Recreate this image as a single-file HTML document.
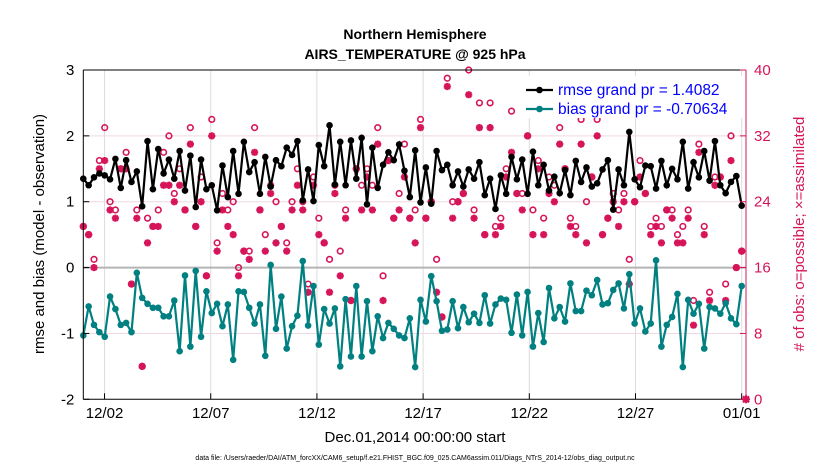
<!DOCTYPE html>
<html><head><meta charset="utf-8"><style>
body{margin:0;background:#fff;}
svg{display:block;font-family:"Liberation Sans",sans-serif;}
</style></head><body>
<svg id="chart" width="830" height="470" viewBox="0 0 830 470" xmlns="http://www.w3.org/2000/svg">
<rect width="830" height="470" fill="#fff"/>
<g id="grid"></g>
<g id="marks"></g>
<g id="axes"></g>
<text x="415" y="39" text-anchor="middle" font-size="14" font-weight="bold">Northern Hemisphere</text>
<text x="415" y="59" text-anchor="middle" font-size="14" font-weight="bold">AIRS_TEMPERATURE @ 925 hPa</text>
<text x="415" y="442" text-anchor="middle" font-size="15">Dec.01,2014 00:00:00 start</text>
<text transform="translate(44,234) rotate(-90)" text-anchor="middle" font-size="15">rmse and bias (model - observation)</text>
<text transform="translate(804,234) rotate(-90)" text-anchor="middle" font-size="15" fill="#d6145a"># of obs: o=possible; ×=assimilated</text>
<text x="415" y="460" text-anchor="middle" font-size="7">data file: /Users/raeder/DAI/ATM_forcXX/CAM6_setup/f.e21.FHIST_BGC.f09_025.CAM6assim.011/Diags_NTrS_2014-12/obs_diag_output.nc</text>
<g id="legend"></g>
</svg>
<script>
const rmse=[1.35,1.25,1.37,1.43,1.40,1.34,1.65,1.21,1.63,1.30,1.46,0.93,1.92,1.19,1.80,1.43,1.64,1.35,1.77,1.17,1.70,0.92,1.64,1.19,1.25,0.87,1.55,1.07,1.77,1.12,1.91,1.45,
1.60,1.12,1.68,1.23,1.63,1.54,1.82,1.71,1.92,1.02,1.49,1.01,1.86,1.54,2.16,1.26,1.91,1.25,1.93,1.35,1.97,0.96,1.82,1.21,1.56,1.75,1.63,1.87,1.47,1.07,1.78,
0.99,1.52,0.97,1.77,1.48,1.56,1.25,1.46,1.23,1.49,1.35,1.60,1.10,1.35,0.89,1.40,1.12,1.68,1.34,1.64,1.12,1.76,1.25,1.56,1.17,1.38,1.13,1.48,1.10,1.62,1.30,
1.52,1.23,1.28,1.49,1.63,0.88,1.49,1.25,2.06,1.34,1.22,1.55,1.54,1.20,1.62,1.25,1.50,1.34,1.91,1.20,1.60,1.37,1.77,1.32,1.92,1.25,1.13,1.30,1.39,0.94];
const bias=[-1.03,-0.59,-0.87,-0.98,-1.05,-0.44,-0.63,-0.87,-0.84,-0.98,-0.08,-0.46,-0.55,-0.61,-0.61,-0.74,-0.74,-0.50,-1.27,-0.12,-1.20,-0.05,-1.05,-0.36,-0.69,-0.55,-0.89,-0.56,-1.40,-0.36,-0.37,-0.61,
-0.85,-0.56,-1.34,0.04,-0.93,-0.44,-1.23,-0.89,-0.73,0.10,-0.88,-0.28,-1.17,-0.63,-0.85,-0.62,-1.50,-0.48,-1.35,-0.28,-1.35,-0.51,-1.27,-0.74,-1.07,-0.84,-0.93,-1.03,-1.07,-0.77,-1.51,
-0.49,-0.82,-0.13,-0.51,-0.96,-0.94,-0.51,-0.92,-0.60,-0.83,-0.70,-0.84,-0.42,-0.85,-0.56,-0.47,-0.49,-0.99,-0.41,-1.03,-0.37,-1.20,-0.69,-1.13,-0.31,-0.77,-0.60,-0.82,-0.24,-0.66,-0.66,
-0.35,-0.42,-0.19,-0.56,-0.54,-0.34,-0.24,-0.62,-0.10,-0.85,-0.62,-0.97,-0.85,0.11,-1.20,-0.87,-0.75,-0.40,-1.51,-0.49,-0.70,-0.55,-1.23,-0.60,-0.62,-0.70,-0.54,-0.77,-0.86,-0.28];
const possible=[21,20,17,29,33,24,23,28,30,14,23,4,22,21,23,30,32,25,28,23,33,21,27,15,34,19,25,23,24,16,18,18,
33,23,20,26,24,21,19,24,28,24,14,27,22,19,17,26,18,23,12,28,26,28,26,33,15,29,22,25,31,22,23,
34,22,24,17,10,39,24,24,25,40,23,36,20,36,21,22,28,35,25,25,32,23,29,22,27,26,33,28,22,21,34,
24,27,34,20,22,25,23,25,17,24,29,25,21,22,21,23,23,20,21,23,12,31,21,13,27,27,14,32,16,18];
const assimilated=[21,20,16,28,29,23,22,28,28,14,22,4,19,21,21,26,26,24,26,23,31,21,24,15,32,18,23,21,20,15,18,17,
30,23,18,25,19,21,18,23,26,23,13,26,20,19,13,25,15,22,12,28,23,27,23,31,12,29,22,23,27,22,19,
33,22,24,13,10,38,22,24,25,37,22,33,20,33,20,21,27,30,25,23,32,20,28,20,25,24,31,28,21,20,31,
19,27,32,20,22,24,21,24,14,24,27,25,20,21,19,23,22,19,19,22,9,30,20,12,26,27,12,29,16,18];
const leftTicks=[3,2,1,0,-1,-2];
const rightTicks=[40,32,24,16,8,0];
const xTickDays=[1,6,11,16,21,26,31];
const xTickLabels=["12/02","12/07","12/12","12/17","12/22","12/27","01/01"];
const legendLabels=["rmse grand pr = 1.4082","bias grand pr = -0.70634"];

const NS="http://www.w3.org/2000/svg";
const L=83.3,R=746,T=70,B=399.3,X0=83.3,X31=741.7;
const xDay=d=>X0+d*(X31-X0)/31;
const xIdx=i=>X0+i*(X31-X0)/(rmse.length-1);
const yL=v=>T+(3-v)*(B-T)/5;
const yR=v=>B-v*(B-T)/40;
function mk(tag,attrs,parent){const e=document.createElementNS(NS,tag);for(const k in attrs)e.setAttribute(k,attrs[k]);parent.appendChild(e);return e;}
const grid=document.getElementById('grid'),marks=document.getElementById('marks'),axes=document.getElementById('axes'),legend=document.getElementById('legend');

xTickDays.forEach(d=>{const g=mk('line',{x1:xDay(d),x2:xDay(d),y1:T,y2:B,stroke:'#dcdcdc','stroke-width':1},grid);

});
rightTicks.forEach(v=>{if(v===0||v===40)return;const g=mk('line',{x1:L,x2:R,y1:yR(v),y2:yR(v),stroke:v===16?'#b4b4b4':'#f0d8e2','stroke-width':v===16?2:1},grid);

});

function series(vals,color,name){
  const p=mk('polyline',{points:vals.map((v,i)=>xIdx(i)+','+yL(v)).join(' '),fill:'none',stroke:color,'stroke-width':2.2},marks);
  
  
  vals.forEach((v,i)=>{const c=mk('circle',{cx:xIdx(i),cy:yL(v),r:3.3,fill:color},marks);
  
  });
}
const RED='#d6145a';
possible.forEach((v,i)=>{const c=mk('circle',{cx:xIdx(i),cy:yR(v),r:2.8,fill:'none',stroke:RED,'stroke-width':1.6},marks);

});
assimilated.forEach((v,i)=>{const x=xIdx(i),y=yR(v),s=3.6;
const d=`M${x-s},${y}H${x+s}M${x},${y-s}V${y+s}M${x-s*0.72},${y-s*0.72}L${x+s*0.72},${y+s*0.72}M${x-s*0.72},${y+s*0.72}L${x+s*0.72},${y-s*0.72}`;
const p=mk('path',{d:d,stroke:RED,'stroke-width':2.2,fill:'none'},marks);

});
series(rmse,'#000','rmse');
series(bias,'#008080','bias');

// axes
const ax=[[L,T,L,B,'#000'],[L,B,R,B,'#000'],[L,T,R,T,'#000'],[R,T,R,B,RED]];
ax.forEach(a=>{const l=mk('line',{x1:a[0],y1:a[1],x2:a[2],y2:a[3],stroke:a[4],'stroke-width':1},axes);

});
leftTicks.forEach(v=>{const t=mk('text',{x:L-9,y:yL(v)+5,'text-anchor':'end','font-size':15},axes);t.textContent=v;


const k=mk('line',{x1:L,x2:L+6,y1:yL(v),y2:yL(v),stroke:'#000'},axes);

});
rightTicks.forEach(v=>{const t=mk('text',{x:R+8,y:yR(v)+5,'text-anchor':'start','font-size':15,fill:RED},axes);t.textContent=v;


const k=mk('line',{x1:R-6,x2:R,y1:yR(v),y2:yR(v),stroke:RED},axes);

});
xTickDays.forEach((d,i)=>{const t=mk('text',{x:xDay(d),y:418,'text-anchor':'middle','font-size':15},axes);t.textContent=xTickLabels[i];


const k=mk('line',{x1:xDay(d),x2:xDay(d),y1:B-6,y2:B,stroke:'#000'},axes);

});
const endMark=mk('path',{d:`M${R-4},${B}H${R+4}M${R},${B-4}V${B+4}M${R-3},${B-3}L${R+3},${B+3}M${R-3},${B+3}L${R+3},${B-3}`,stroke:RED,'stroke-width':2.2},axes);



// legend
const bg=mk('rect',{x:522,y:76,width:222,height:42,fill:'#fff'},legend);


[['#000',90],['#008080',109]].forEach((c,i)=>{
const l=mk('line',{x1:526,x2:553,y1:c[1],y2:c[1],stroke:c[0],'stroke-width':2.2},legend);


const d=mk('circle',{cx:539.5,cy:c[1],r:3.3,fill:c[0]},legend);


const t=mk('text',{x:558,y:c[1]+5,'font-size':15.5,fill:'#0000ff'},legend);t.textContent=legendLabels[i];

});
</script>
</body></html>
